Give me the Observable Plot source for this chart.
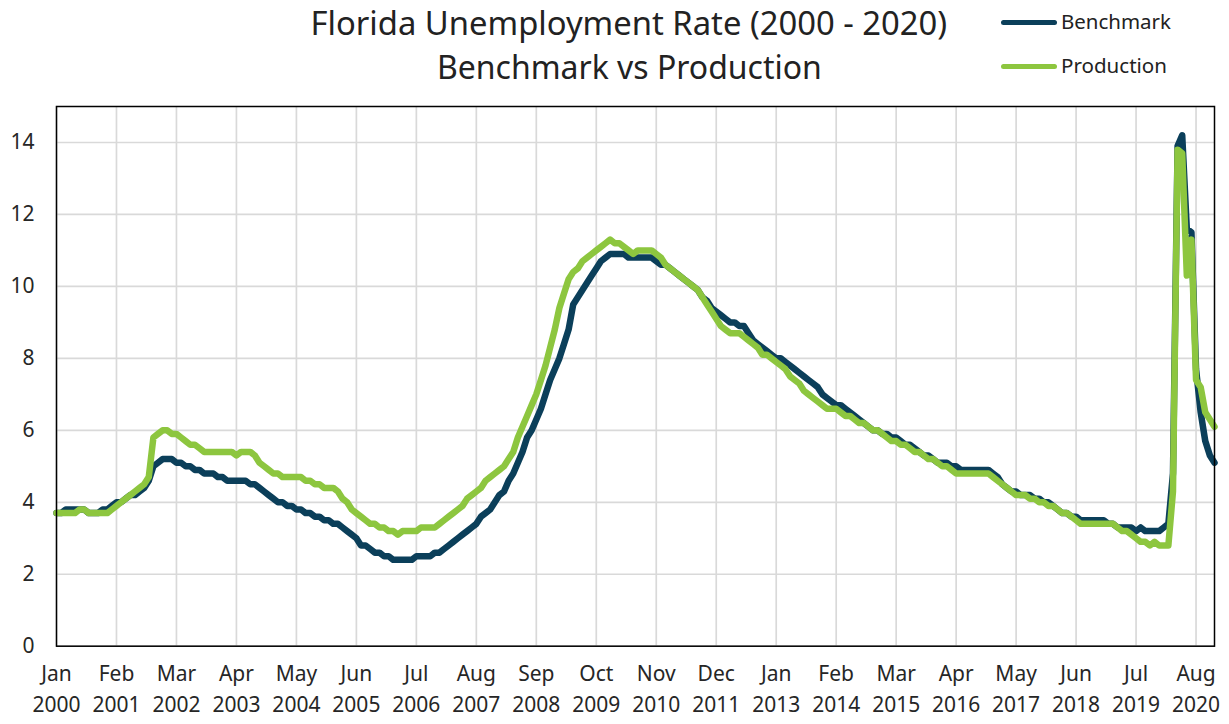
<!DOCTYPE html>
<html><head><meta charset="utf-8">
<script src="https://cdn.jsdelivr.net/npm/d3@7"></script>
<script src="https://cdn.jsdelivr.net/npm/@observablehq/plot@0.6"></script>
<style>
body{margin:0;background:#fff;font-family:"Noto Sans",sans-serif;color:#222;}
#wrap{position:relative;width:1229px;height:724px;overflow:hidden;}
#head{position:relative;height:90px;}
.t{position:absolute;white-space:nowrap;line-height:1;}
.leg{position:absolute;height:5px;border-radius:3px;}
#chart svg{display:block;}
</style></head>
<body><div id="wrap"><div id="head"></div><div id="chart"></div></div>
<script>
// ---- data (monthly, Jan 2000 – Dec 2020) ----
const benchmark = [
 3.7,3.7,3.8,3.8,3.8,3.8,3.8,3.7,3.7,3.7,3.8,3.8,
 3.9,4.0,4.0,4.1,4.2,4.2,4.3,4.4,4.6,5.0,5.1,5.2,
 5.2,5.2,5.1,5.1,5.0,5.0,4.9,4.9,4.8,4.8,4.8,4.7,
 4.7,4.6,4.6,4.6,4.6,4.6,4.5,4.5,4.4,4.3,4.2,4.1,
 4.0,4.0,3.9,3.9,3.8,3.8,3.7,3.7,3.6,3.6,3.5,3.5,
 3.4,3.4,3.3,3.2,3.1,3.0,2.8,2.8,2.7,2.6,2.6,2.5,
 2.5,2.4,2.4,2.4,2.4,2.4,2.5,2.5,2.5,2.5,2.6,2.6,
 2.7,2.8,2.9,3.0,3.1,3.2,3.3,3.4,3.6,3.7,3.8,4.0,
 4.2,4.3,4.6,4.8,5.1,5.4,5.8,6.0,6.3,6.6,7.0,7.4,
 7.7,8.0,8.4,8.8,9.5,9.7,9.9,10.1,10.3,10.5,10.7,10.8,
 10.9,10.9,10.9,10.9,10.8,10.8,10.8,10.8,10.8,10.8,10.7,10.6,
 10.6,10.5,10.4,10.3,10.2,10.1,10.0,9.9,9.7,9.6,9.4,9.3,
 9.2,9.1,9.0,9.0,8.9,8.9,8.7,8.5,8.4,8.3,8.2,8.1,
 8.0,8.0,7.9,7.8,7.7,7.6,7.5,7.4,7.3,7.2,7.0,6.9,
 6.8,6.7,6.7,6.6,6.5,6.4,6.3,6.2,6.1,6.0,6.0,5.9,
 5.9,5.8,5.8,5.7,5.6,5.6,5.5,5.4,5.3,5.3,5.2,5.1,
 5.1,5.1,5.0,5.0,4.9,4.9,4.9,4.9,4.9,4.9,4.9,4.8,
 4.7,4.5,4.4,4.3,4.3,4.2,4.2,4.2,4.1,4.1,4.0,4.0,
 3.9,3.8,3.7,3.7,3.6,3.6,3.5,3.5,3.5,3.5,3.5,3.5,
 3.4,3.4,3.3,3.3,3.3,3.3,3.2,3.3,3.2,3.2,3.2,3.2,
 3.3,3.4,4.8,13.9,14.2,11.6,11.5,7.7,6.5,5.7,5.3,5.1
];
const production = [
 3.7,3.7,3.7,3.7,3.7,3.8,3.8,3.7,3.7,3.7,3.7,3.7,
 3.8,3.9,4.0,4.1,4.2,4.3,4.4,4.5,4.7,5.8,5.9,6.0,
 6.0,5.9,5.9,5.8,5.7,5.6,5.6,5.5,5.4,5.4,5.4,5.4,
 5.4,5.4,5.4,5.3,5.4,5.4,5.4,5.3,5.1,5.0,4.9,4.8,
 4.8,4.7,4.7,4.7,4.7,4.7,4.6,4.6,4.5,4.5,4.4,4.4,
 4.4,4.3,4.1,4.0,3.8,3.7,3.6,3.5,3.4,3.4,3.3,3.3,
 3.2,3.2,3.1,3.2,3.2,3.2,3.2,3.3,3.3,3.3,3.3,3.4,
 3.5,3.6,3.7,3.8,3.9,4.1,4.2,4.3,4.4,4.6,4.7,4.8,
 4.9,5.0,5.2,5.4,5.8,6.1,6.4,6.7,7.0,7.4,7.8,8.3,
 8.8,9.4,9.8,10.2,10.4,10.5,10.7,10.8,10.9,11.0,11.1,11.2,
 11.3,11.2,11.2,11.1,11.0,10.9,11.0,11.0,11.0,11.0,10.9,10.8,
 10.6,10.5,10.4,10.3,10.2,10.1,10.0,9.9,9.7,9.5,9.3,9.1,
 8.9,8.8,8.7,8.7,8.7,8.6,8.5,8.4,8.3,8.1,8.1,8.0,
 7.9,7.8,7.7,7.5,7.4,7.3,7.1,7.0,6.9,6.8,6.7,6.6,
 6.6,6.6,6.5,6.4,6.4,6.3,6.2,6.2,6.1,6.0,6.0,5.9,
 5.8,5.7,5.7,5.6,5.6,5.5,5.4,5.4,5.3,5.2,5.2,5.1,
 5.0,5.0,4.9,4.8,4.8,4.8,4.8,4.8,4.8,4.8,4.8,4.7,
 4.6,4.5,4.4,4.3,4.2,4.2,4.2,4.1,4.1,4.0,4.0,3.9,
 3.9,3.8,3.7,3.7,3.6,3.5,3.4,3.4,3.4,3.4,3.4,3.4,
 3.4,3.4,3.3,3.2,3.2,3.1,3.0,2.9,2.9,2.8,2.9,2.8,
 2.8,2.8,4.3,13.8,13.7,10.3,11.3,7.4,7.2,6.5,6.3,6.1
];
// x tick labels, one every 13 months starting Jan 2000
const xTickLabels = ["Jan\n2000","Feb\n2001","Mar\n2002","Apr\n2003","May\n2004","Jun\n2005","Jul\n2006","Aug\n2007","Sep\n2008","Oct\n2009","Nov\n2010","Dec\n2011","Jan\n2013","Feb\n2014","Mar\n2015","Apr\n2016","May\n2017","Jun\n2018","Jul\n2019","Aug\n2020"];
const yTicks = [0,2,4,6,8,10,12,14];
const seriesNames = ["Benchmark","Production"];
const seriesColors = ["#0b3f5a","#8dc63f"];
const titleLines = ["Florida Unemployment Rate (2000 - 2020)","Benchmark vs Production"];

// ---- build ----
const xTickPos = xTickLabels.map((_, i) => i * 13);
const labelAt = new Map(xTickPos.map((p, i) => [p, xTickLabels[i]]));
const rows = [
  ...benchmark.map((v, i) => ({m: i, v, s: seriesNames[0]})),
  ...production.map((v, i) => ({m: i, v, s: seriesNames[1]}))
];

const ctx = document.createElement("canvas").getContext("2d");
function sizeFor(text, width, family) {
  ctx.font = `100px ${family}`;
  return 100 * width / ctx.measureText(text).width;
}
const head = document.getElementById("head");
function addText(text, cx, cy, width, anchor) {
  const fam = '"Noto Sans"';
  const fs = sizeFor(text, width, fam);
  const d = document.createElement("div");
  d.className = "t";
  d.textContent = text;
  d.style.fontSize = fs + "px";
  d.style.top = (cy - 0.53 * fs) + "px";
  if (anchor === "middle") { d.style.left = (cx - width / 2) + "px"; }
  else { d.style.left = cx + "px"; }
  head.appendChild(d);
}
addText(titleLines[0], 629, 24, 637, "middle");
addText(titleLines[1], 629.5, 68, 385, "middle");
[[22, 110], [66, 106]].forEach(([cy, w], k) => {
  const l = document.createElement("div");
  l.className = "leg";
  l.style.background = seriesColors[k];
  l.style.left = "1001px"; l.style.width = "56px"; l.style.top = (cy - 2.5) + "px";
  head.appendChild(l);
  addText(seriesNames[k], 1061, cy, w, "start");
});

const chart = Plot.plot({
  width: 1229,
  height: 634,
  marginTop: 16,
  marginBottom: 78.3,
  marginLeft: 56,
  marginRight: 15,
  style: {fontFamily: '"Noto Sans", sans-serif', fontSize: "21px", color: "#262626", background: "#fff", overflow: "visible"},
  x: {type: "linear", domain: [0, benchmark.length - 1]},
  y: {domain: [0, 15]},
  color: {domain: seriesNames, range: seriesColors},
  marks: [
    Plot.gridX(xTickPos, {stroke: "#d9d9d9", strokeOpacity: 1, strokeWidth: 1.7}),
    Plot.gridY(yTicks, {stroke: "#d9d9d9", strokeOpacity: 1, strokeWidth: 1.7}),
    Plot.axisX(xTickPos, {tickSize: 0, tickPadding: 13, tickFormat: d => labelAt.get(d), lineHeight: 1.48, fontSize: 21, label: null}),
    Plot.axisY(yTicks, {tickSize: 0, tickPadding: 22, fontSize: 21, label: null}),
    Plot.lineY(rows, {x: "m", y: "v", z: "s", stroke: "s", strokeWidth: 6.5, strokeLinejoin: "round"}),
    Plot.frame({stroke: "#000", strokeWidth: 1.5})
  ]
});
document.getElementById("chart").appendChild(chart);
</script></body></html>
